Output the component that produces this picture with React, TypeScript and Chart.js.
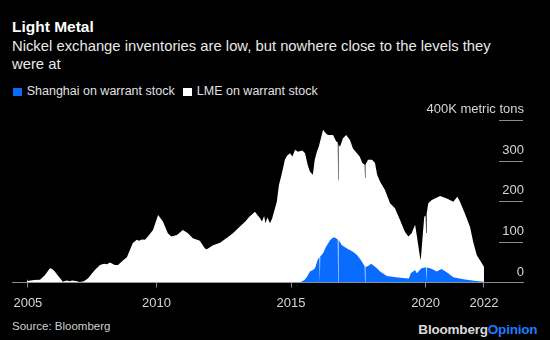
import React, { useEffect, useRef } from "react";
import { Chart, registerables } from "chart.js";

Chart.register(...registerables);

// ---- Data ----
const lmeDates = [
  2005.18, 2005.21, 2005.45, 2005.67, 2005.85, 2006.04, 2006.12, 2006.22, 2006.41, 2006.52,
  2006.6, 2006.67, 2006.78, 2006.86, 2007.0, 2007.15, 2007.3, 2007.45, 2007.6, 2007.71,
  2007.9, 2008.05, 2008.16, 2008.27, 2008.45, 2008.57, 2008.75, 2008.9, 2009.0, 2009.12,
  2009.27, 2009.35, 2009.46, 2009.57, 2009.68, 2009.87, 2010.06, 2010.24, 2010.42, 2010.55,
  2010.76, 2010.98, 2011.17, 2011.35, 2011.61, 2011.8, 2011.87, 2012.1, 2012.36, 2012.62,
  2012.84, 2013.1, 2013.3, 2013.45, 2013.66, 2013.75, 2013.85, 2013.92, 2014.0, 2014.05,
  2014.12, 2014.22, 2014.3, 2014.47, 2014.55, 2014.66, 2014.77, 2014.85, 2014.96, 2015.05,
  2015.15, 2015.25, 2015.42, 2015.52, 2015.62, 2015.7, 2015.81, 2015.88, 2015.96, 2016.03,
  2016.19, 2016.28, 2016.37, 2016.56, 2016.68, 2016.735, 2016.75, 2016.765, 2016.82, 2016.93,
  2017.05, 2017.19, 2017.3, 2017.45, 2017.55, 2017.65, 2017.735, 2017.75, 2017.765, 2017.86,
  2018.01, 2018.12, 2018.2, 2018.31, 2018.49, 2018.68, 2018.86, 2019.05, 2019.23, 2019.36,
  2019.48, 2019.61, 2019.67, 2019.79, 2019.82, 2019.89, 2019.95, 2020.0, 2020.02, 2020.04,
  2020.1, 2020.23, 2020.54, 2020.79, 2021.03, 2021.18, 2021.28, 2021.46, 2021.65, 2021.77,
  2021.9, 2022.02, 2022.17,
];
const lmeValues = [
  10, 4, 6, 7, 18, 35, 33, 27, 11, 2,
  4, 5, 3, 5, 4, 1, 3, 10, 22, 31,
  43, 46, 45, 49, 43, 43, 54, 62, 78, 97,
  105, 103, 106, 105, 113, 129, 166, 150, 121, 113,
  117, 129, 121, 109, 103, 84, 82, 92, 98, 110,
  121, 138, 150, 162, 174, 166, 158, 150, 164, 146,
  160, 146, 158, 199, 240, 269, 302, 312, 318, 310,
  327, 322, 325, 318, 289, 273, 265, 302, 322, 334,
  376, 368, 363, 363, 347, 345, 252, 340, 334, 355,
  363, 351, 330, 318, 310, 294, 290, 257, 290, 302,
  302, 294, 265, 248, 228, 195, 183, 154, 125, 113,
  121, 142, 117, 64, 55, 113, 162, 165, 122, 170,
  195, 203, 213, 207, 199, 211, 199, 170, 137, 100,
  68, 55, 39,
];

const shanghaiDates = [
  2015.3, 2015.38, 2015.5, 2015.6, 2015.7, 2015.8, 2015.89, 2016.0, 2016.055, 2016.07,
  2016.085, 2016.19, 2016.3, 2016.45, 2016.55, 2016.63, 2016.735, 2016.75, 2016.765, 2016.89,
  2017.08, 2017.3, 2017.45, 2017.6, 2017.735, 2017.75, 2017.765, 2017.85, 2017.98, 2018.04,
  2018.19, 2018.31, 2018.56, 2018.9, 2019.15, 2019.38, 2019.45, 2019.61, 2019.67, 2019.85,
  2019.98, 2020.025, 2020.04, 2020.055, 2020.22, 2020.41, 2020.59, 2020.84, 2021.03, 2021.4,
  2021.88, 2022.17,
];
const shanghaiValues = [
  0, 2, 6, 15, 27, 30, 35, 58, 62, 0,
  64, 72, 88, 104, 110, 111, 106, 0, 105, 92,
  84, 76, 68, 55, 40, 0, 39, 40, 46, 43,
  35, 27, 16, 13, 11, 10, 23, 31, 23, 35,
  37, 37, 0, 37, 34, 27, 33, 23, 13, 8,
  4, 2,
];

const xTickValues = [2005.22, 2010, 2015, 2020, 2022.17];
const xTickLabels = ["2005", "2010", "2015", "2020", "2022"];
const yTickValues = [0, 100, 200, 300, 400];
const yUnit = "K metric tons";
const seriesLabels = ["Shanghai on warrant stock", "LME on warrant stock"];
const seriesColors = ["#0a6cff", "#ffffff"];

const FONT = '"Liberation Sans", Arial, Helvetica, sans-serif';
const GRID = "#8c8c8c";
const TICK_TEXT = "#d6d6d6";

const shortGrid = {
  id: "shortGrid",
  afterDatasetsDraw(chart: any) {
    const y = chart.scales.y;
    const { ctx, chartArea } = chart;
    ctx.save();
    ctx.strokeStyle = GRID;
    ctx.lineWidth = 1;
    yTickValues.forEach((v) => {
      if (v === 0) return;
      const py = Math.round(y.getPixelForValue(v)) + 0.5;
      ctx.beginPath();
      ctx.moveTo(chartArea.right - 24, py);
      ctx.lineTo(chartArea.right, py);
      ctx.stroke();
    });
    ctx.restore();
  },
};

function ChartCanvas() {
  const ref = useRef<HTMLCanvasElement | null>(null);
  useEffect(() => {
    if (!ref.current) return;
    const chart = new Chart(ref.current, {
      type: "line",
      data: {
        datasets: [
          {
            label: seriesLabels[0],
            data: shanghaiDates.map((d, i) => ({ x: d, y: shanghaiValues[i] })),
            backgroundColor: seriesColors[0],
            borderColor: seriesColors[0],
            borderWidth: 0,
            pointRadius: 0,
            fill: "origin",
            tension: 0,
          },
          {
            label: seriesLabels[1],
            data: lmeDates.map((d, i) => ({ x: d, y: lmeValues[i] })),
            backgroundColor: seriesColors[1],
            borderColor: seriesColors[1],
            borderWidth: 0,
            pointRadius: 0,
            fill: "origin",
            tension: 0,
          },
        ],
      },
      options: {
        animation: false,
        responsive: false,
        devicePixelRatio: 1,
        layout: { padding: { left: 12, right: 27, top: 20, bottom: 0 } },
        plugins: {
          legend: { display: false },
          tooltip: { enabled: false },
          title: { display: false },
        },
        scales: {
          x: {
            type: "linear",
            min: 2004.63,
            max: 2023.62,
            bounds: "data",
            afterBuildTicks: (scale: any) => {
              scale.ticks = xTickValues.map((v) => ({ value: v }));
            },
            afterFit: (scale: any) => {
              scale.height = 27.5;
            },
            grid: {
              display: true,
              drawOnChartArea: false,
              drawTicks: true,
              tickLength: 5,
              color: GRID,
            },
            border: { display: true, color: GRID, width: 1 },
            ticks: {
              autoSkip: false,
              maxRotation: 0,
              padding: 8,
              color: TICK_TEXT,
              font: { family: FONT, size: 13 },
              callback: (_v: any, i: number) => xTickLabels[i],
            },
          },
          y: {
            type: "linear",
            position: "right",
            min: 0,
            max: 400,
            afterBuildTicks: (scale: any) => {
              scale.ticks = yTickValues.map((v) => ({ value: v }));
            },
            afterFit: (scale: any) => {
              scale.width = 0;
            },
            grid: { display: false, drawTicks: false },
            border: { display: false },
            ticks: {
              mirror: true,
              padding: 1,
              labelOffset: -10.5,
              color: TICK_TEXT,
              font: { family: FONT, size: 13 },
              callback: (v: any) => (v === 400 ? `${v}${yUnit}` : String(v)),
            },
          },
        },
      },
      plugins: [shortGrid],
    });
    return () => chart.destroy();
  }, []);
  return (
    <canvas
      ref={ref}
      width={550}
      height={210}
      style={{ position: "absolute", left: 0, top: 100, width: 550, height: 210 }}
    />
  );
}

export default function App() {
  const abs: React.CSSProperties = { position: "absolute", whiteSpace: "nowrap", fontFamily: FONT };
  return (
    <div
      style={{
        position: "fixed",
        left: 0,
        top: 0,
        width: "100vw",
        height: "100vh",
        background: "#000",
        overflow: "hidden",
      }}
    >
      <div style={{ position: "relative", width: 550, height: 340 }}>
        <div style={{ ...abs, left: 12, top: 18.2, fontSize: 15.5, lineHeight: "18px", fontWeight: 700, color: "#fff" }}>
          Light Metal
        </div>
        <div style={{ ...abs, left: 12, top: 38, fontSize: 14.8, lineHeight: "17.5px", color: "#e8e8e8" }}>
          Nickel exchange inventories are low, but nowhere close to the levels they
          <br />
          were at
        </div>
        <div style={{ ...abs, left: 13.3, top: 87.7, width: 8.4, height: 8.4, background: seriesColors[0] }} />
        <div style={{ ...abs, left: 26.7, top: 82.5, fontSize: 12.5, lineHeight: "17px", color: "#e0e0e0" }}>
          {seriesLabels[0]}
        </div>
        <div style={{ ...abs, left: 183.4, top: 87.7, width: 8.4, height: 8.4, background: seriesColors[1] }} />
        <div style={{ ...abs, left: 196.8, top: 82.5, fontSize: 12.5, lineHeight: "17px", color: "#e0e0e0" }}>
          {seriesLabels[1]}
        </div>
        <ChartCanvas />
        <div style={{ ...abs, left: 12, top: 317.5, fontSize: 11.5, lineHeight: "16px", color: "#d0d0d0" }}>
          Source: Bloomberg
        </div>
        <div
          style={{
            ...abs,
            right: 550 - 537.4,
            top: 320.5,
            fontSize: 13.5,
            lineHeight: "18px",
            fontWeight: 700,
            letterSpacing: "-0.2px",
          }}
        >
          <span style={{ color: "#d9d9d9" }}>Bloomberg</span>
          <span style={{ color: "#1e7bff" }}>Opinion</span>
        </div>
      </div>
    </div>
  );
}
